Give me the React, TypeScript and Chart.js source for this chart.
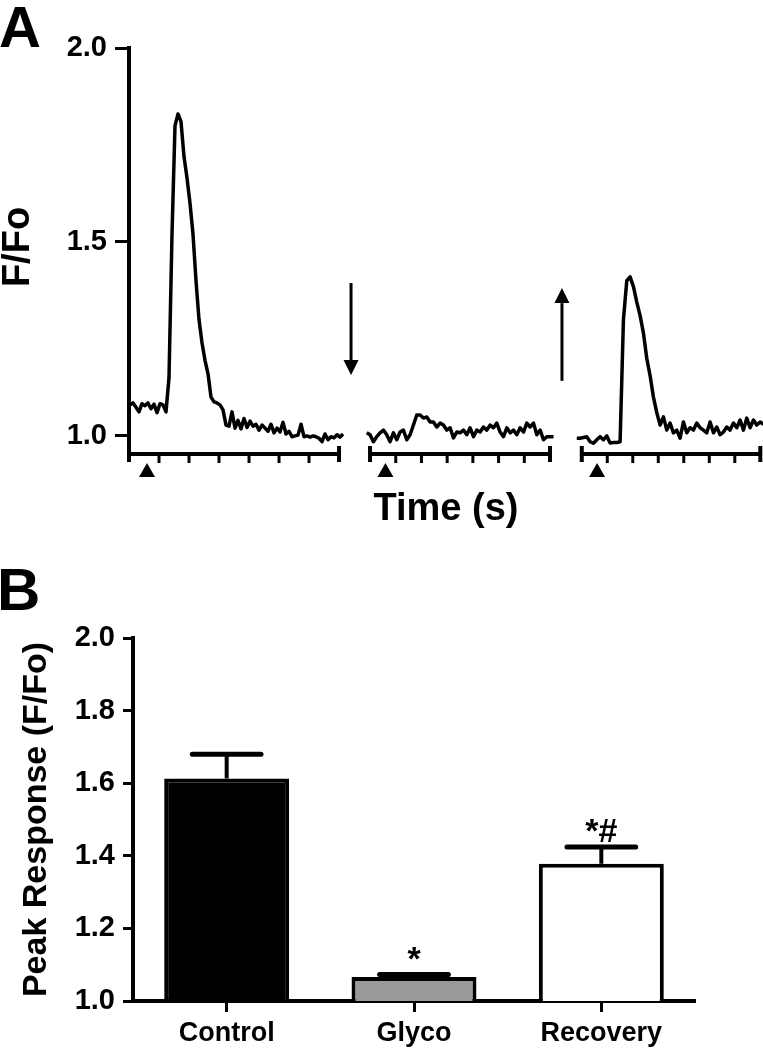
import React, { useEffect, useRef } from "react";
import { Chart, registerables } from "chart.js";

Chart.register(...registerables);

const FONT = '"Liberation Sans", Arial, Helvetica, sans-serif';

// ---------------- Panel A data ----------------
const Y_TICKS_A = [1.0, 1.5, 2.0];
const SEG_TICK_SECONDS = [0, 1, 2, 3, 4, 5, 6, 7];
const STIM_SECONDS = 0.6;
// where each recording window sits on the broken time axis
const SEG_OFFSETS = [0, 8.033, 15.09];
const SEG_SCALES = [1, 0.857, 0.85];
const TRACE_T0 = [0.033, -0.128, -0.196];
const TRACE_DT = [0.1, 0.1297, 0.1307];

const TRACE_CONTROL = [
  1.08, 1.085, 1.074, 1.062, 1.083, 1.078, 1.085, 1.07, 1.082, 1.06, 1.083, 1.08, 1.062,
  1.15, 1.52, 1.8, 1.83, 1.81, 1.72, 1.665, 1.6, 1.52, 1.4, 1.3, 1.24, 1.195, 1.16, 1.1,
  1.088, 1.085, 1.08, 1.067, 1.028, 1.025, 1.062, 1.02, 1.04, 1.018, 1.045, 1.022, 1.038,
  1.025, 1.03, 1.015, 1.028, 1.02, 1.012, 1.03, 1.008, 1.02, 1.01, 1.035, 1.005, 1.012,
  0.998, 1.0, 1.002, 1.03, 0.998, 1.0, 0.997, 1.0, 0.998, 0.994, 0.985, 1.005, 0.99,
  0.998, 0.995, 1.003, 0.997, 1.005,
];
const TRACE_GLYCO = [
  1.008, 1.003, 0.985, 0.998, 1.008, 1.015, 1.003, 0.985, 1.008, 0.99, 1.01, 1.015, 0.99,
  1.003, 1.028, 1.054, 1.054, 1.046, 1.049, 1.036, 1.036, 1.023, 1.033, 1.028, 1.015,
  1.021, 0.995, 1.01, 1.008, 1.015, 1.003, 1.021, 0.998, 1.015, 1.01, 1.023, 1.015, 1.028,
  1.021, 1.033, 1.01, 0.998, 1.021, 1.008, 1.015, 1.003, 1.021, 1.01, 1.033, 1.023, 1.033,
  1.003, 1.015, 0.99, 0.998, 0.998, 0.998,
];
const TRACE_RECOVERY = [
  0.994, 0.994, 0.996, 0.998, 0.985, 0.981, 0.99, 0.998, 0.99, 1.0, 0.982, 0.983, 0.983,
  0.985, 1.3, 1.4, 1.41, 1.385, 1.345, 1.31, 1.265, 1.2, 1.155, 1.1, 1.06, 1.028, 1.049,
  1.015, 1.033, 1.008, 1.015, 0.994, 1.036, 1.008, 1.021, 1.015, 1.033, 1.021, 1.015,
  1.008, 1.036, 1.008, 1.023, 1.003, 1.01, 1.023, 1.015, 1.033, 1.021, 1.041, 1.015,
  1.046, 1.021, 1.041, 1.028, 1.036, 1.03,
];
const TRACES = [TRACE_CONTROL, TRACE_GLYCO, TRACE_RECOVERY];
// arrows between windows: [x (axis units), from value, to value]
const ARROW_DOWN = [7.4, 1.394, 1.157];
const ARROW_UP = [14.43, 1.142, 1.381];

// ---------------- Panel B data ----------------
const CATEGORIES = ["Control", "Glyco", "Recovery"];
const MEANS = [1.613, 1.066, 1.378];
const SEMS = [0.067, 0.007, 0.046];
const BAR_COLORS = ["#000000", "#999999", "#ffffff"];
const SIG_LABELS = ["", "*", "*#"];
const Y_TICKS_B = [1.0, 1.2, 1.4, 1.6, 1.8, 2.0];

function drawArrow(ctx: CanvasRenderingContext2D, x: number, y0: number, y1: number) {
  const dir = y1 > y0 ? 1 : -1;
  const head = 15;
  const half = 7.5;
  ctx.save();
  ctx.strokeStyle = "#000";
  ctx.fillStyle = "#000";
  ctx.lineWidth = 3;
  ctx.beginPath();
  ctx.moveTo(x, y0);
  ctx.lineTo(x, y1 - dir * head);
  ctx.stroke();
  ctx.beginPath();
  ctx.moveTo(x, y1);
  ctx.lineTo(x - half, y1 - dir * head);
  ctx.lineTo(x + half, y1 - dir * head);
  ctx.closePath();
  ctx.fill();
  ctx.restore();
}

const panelAPlugin = {
  id: "panelA",
  afterDraw(chart: any) {
    const ctx: CanvasRenderingContext2D = chart.ctx;
    const xs = chart.scales.x;
    const ys = chart.scales.y;
    const area = chart.chartArea;
    const yLine = area.bottom + 8;
    ctx.save();
    ctx.strokeStyle = "#000";
    ctx.fillStyle = "#000";
    SEG_OFFSETS.forEach((off, k) => {
      const px = (t: number) => xs.getPixelForValue(off + SEG_SCALES[k] * t);
      const first = SEG_TICK_SECONDS[0];
      const last = SEG_TICK_SECONDS[SEG_TICK_SECONDS.length - 1];
      ctx.lineWidth = 4;
      ctx.beginPath();
      ctx.moveTo(px(first), yLine);
      ctx.lineTo(px(last), yLine);
      ctx.stroke();
      SEG_TICK_SECONDS.forEach((t) => {
        const x = px(t);
        ctx.beginPath();
        if (t === first || t === last) {
          ctx.lineWidth = 4;
          ctx.moveTo(x, yLine - 8);
          ctx.lineTo(x, yLine + 8);
        } else {
          ctx.lineWidth = 3;
          ctx.moveTo(x, yLine);
          ctx.lineTo(x, yLine + 9);
        }
        ctx.stroke();
      });
      const sx = px(STIM_SECONDS);
      ctx.beginPath();
      ctx.moveTo(sx, yLine + 9);
      ctx.lineTo(sx - 8, yLine + 23);
      ctx.lineTo(sx + 8, yLine + 23);
      ctx.closePath();
      ctx.fill();
    });
    drawArrow(ctx, xs.getPixelForValue(ARROW_DOWN[0]), ys.getPixelForValue(ARROW_DOWN[1]), ys.getPixelForValue(ARROW_DOWN[2]));
    drawArrow(ctx, xs.getPixelForValue(ARROW_UP[0]), ys.getPixelForValue(ARROW_UP[1]), ys.getPixelForValue(ARROW_UP[2]));
    ctx.textBaseline = "alphabetic";
    ctx.textAlign = "center";
    ctx.font = `bold 38px ${FONT}`;
    ctx.fillText("Time (s)", (area.left + area.right) / 2, 520);
    ctx.textAlign = "left";
    ctx.font = `bold 58px ${FONT}`;
    ctx.fillText("A", -1, 47);
    ctx.restore();
  },
};

const panelBPlugin = {
  id: "panelB",
  afterDatasetsDraw(chart: any) {
    const ctx: CanvasRenderingContext2D = chart.ctx;
    const ys = chart.scales.y;
    const meta = chart.getDatasetMeta(0);
    ctx.save();
    ctx.strokeStyle = "#000";
    ctx.fillStyle = "#000";
    meta.data.forEach((bar: any, i: number) => {
      const top = ys.getPixelForValue(MEANS[i] + SEMS[i]);
      const w = bar.width * 0.55;
      ctx.lineWidth = 4;
      ctx.beginPath();
      ctx.moveTo(bar.x, bar.y);
      ctx.lineTo(bar.x, top);
      ctx.stroke();
      ctx.lineWidth = 5;
      ctx.lineCap = "round";
      ctx.beginPath();
      ctx.moveTo(bar.x - w / 2, top);
      ctx.lineTo(bar.x + w / 2, top);
      ctx.stroke();
      ctx.lineCap = "butt";
      if (SIG_LABELS[i]) {
        ctx.font = `bold 34px ${FONT}`;
        ctx.textAlign = "center";
        ctx.textBaseline = "alphabetic";
        ctx.fillText(SIG_LABELS[i], bar.x, top - 5);
      }
    });
    ctx.restore();
  },
  afterDraw(chart: any) {
    const ctx: CanvasRenderingContext2D = chart.ctx;
    ctx.save();
    ctx.fillStyle = "#000";
    ctx.font = `bold 60px ${FONT}`;
    ctx.textAlign = "left";
    ctx.textBaseline = "alphabetic";
    ctx.fillText("B", -3, 70);
    ctx.restore();
  },
};

export default function App() {
  const refA = useRef<HTMLCanvasElement>(null);
  const refB = useRef<HTMLCanvasElement>(null);

  useEffect(() => {
    const datasets = TRACES.map((vals, k) => ({
      data: vals.map((v, i) => ({
        x: SEG_OFFSETS[k] + SEG_SCALES[k] * (TRACE_T0[k] + TRACE_DT[k] * i),
        y: v,
      })),
      borderColor: "#000",
      borderWidth: 3.5,
      pointRadius: 0,
      tension: 0,
      fill: false,
      borderJoinStyle: "round",
    }));

    const chartA = new Chart(refA.current as HTMLCanvasElement, {
      type: "line",
      data: { datasets } as any,
      options: {
        responsive: false,
        animation: false,
        layout: { padding: { top: 48, bottom: 94, left: 0, right: 0 } },
        plugins: { legend: { display: false }, tooltip: { enabled: false } },
        scales: {
          x: { type: "linear", min: 0, max: 21.13, display: false },
          y: {
            min: 0.974,
            max: 2.0,
            afterBuildTicks: (s: any) => {
              s.ticks = Y_TICKS_A.map((v) => ({ value: v }));
            },
            afterFit: (s: any) => {
              s.width = 129;
            },
            border: { display: true, color: "#000", width: 4 },
            grid: { drawOnChartArea: false, drawTicks: true, tickLength: 14, tickWidth: 3, tickColor: "#000" },
            ticks: {
              color: "#000",
              font: { family: FONT, size: 29, weight: "bold" },
              padding: 8,
              callback: (v: any) => Number(v).toFixed(1),
            },
            title: {
              display: true,
              text: "F/Fo",
              color: "#000",
              font: { family: FONT, size: 38, weight: "bold", lineHeight: 1 },
              padding: { top: 0, bottom: 0 },
            },
          },
        } as any,
      },
      plugins: [panelAPlugin],
    });

    const chartB = new Chart(refB.current as HTMLCanvasElement, {
      type: "bar",
      data: {
        labels: CATEGORIES,
        datasets: [
          {
            data: MEANS,
            backgroundColor: BAR_COLORS,
            borderColor: "#000",
            borderWidth: 4,
            barPercentage: 0.667,
            categoryPercentage: 1,
          },
        ],
      },
      options: {
        responsive: false,
        animation: false,
        layout: { padding: { top: 98, right: 68, left: 0, bottom: 0 } },
        plugins: { legend: { display: false }, tooltip: { enabled: false } },
        scales: {
          x: {
            afterFit: (s: any) => {
              s.height = 49;
            },
            border: { display: true, color: "#000", width: 4 },
            grid: { offset: false, drawOnChartArea: false, drawTicks: true, tickLength: 11, tickWidth: 3, tickColor: "#000" },
            ticks: { color: "#000", font: { family: FONT, size: 27, weight: "bold" }, padding: 5, maxRotation: 0 },
          },
          y: {
            min: 1.0,
            max: 2.0,
            afterBuildTicks: (s: any) => {
              s.ticks = Y_TICKS_B.map((v) => ({ value: v }));
            },
            afterFit: (s: any) => {
              s.width = 133;
            },
            border: { display: true, color: "#000", width: 4 },
            grid: { drawOnChartArea: false, drawTicks: true, tickLength: 10, tickWidth: 3, tickColor: "#000" },
            ticks: {
              color: "#000",
              font: { family: FONT, size: 29, weight: "bold" },
              padding: 8,
              callback: (v: any) => Number(v).toFixed(1),
            },
            title: {
              display: true,
              text: "Peak Response (F/Fo)",
              color: "#000",
              font: { family: FONT, size: 34, weight: "bold", lineHeight: 1 },
              padding: { top: 20, bottom: 0 },
            },
          },
        } as any,
      },
      plugins: [panelBPlugin],
    });

    return () => {
      chartA.destroy();
      chartB.destroy();
    };
  }, []);

  return (
    <div style={{ position: "absolute", left: 0, top: 0, width: 763, height: 1050, background: "#fff" }}>
      <canvas ref={refA} width={763} height={540} style={{ position: "absolute", left: 0, top: 0 }} />
      <canvas ref={refB} width={763} height={510} style={{ position: "absolute", left: 0, top: 540 }} />
    </div>
  );
}
